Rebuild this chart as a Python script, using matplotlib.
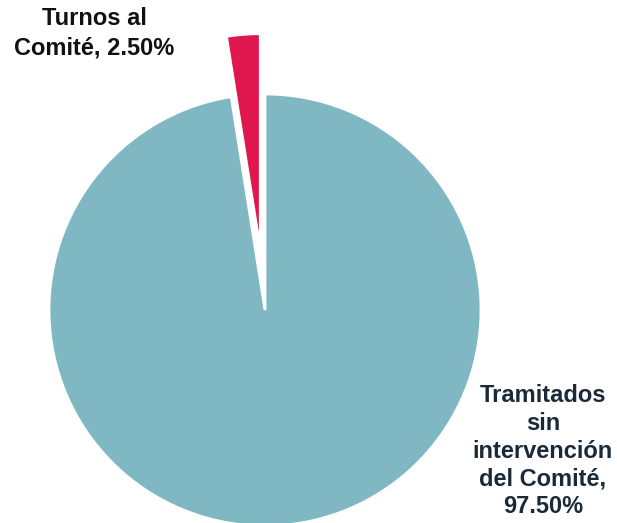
import matplotlib
matplotlib.use("Agg")
import matplotlib.pyplot as plt

categories = ["Turnos al\nComité", "Tramitados\nsin\nintervención\ndel Comité"]
values = [2.5, 97.5]
colors = ["#E0174F", "#7FB8C2"]
explode = [0.28, 0.0]

W, H = 617, 523
fig = plt.figure(figsize=(W / 100, H / 100), dpi=100)
cx, cy, r = 265, 310, 216
ax = fig.add_axes([(cx - r) / W, (H - cy - r) / H, 2 * r / W, 2 * r / H])
ax.pie(values, colors=colors, explode=explode, startangle=90, counterclock=True,
       radius=1.0, wedgeprops=dict(edgecolor="white", linewidth=2))
ax.set_xlim(-1, 1)
ax.set_ylim(-1, 1)
ax.set_aspect("equal")
ax.axis("off")

font = dict(family=["Liberation Sans", "DejaVu Sans"], fontweight="bold", fontsize=17)
lbl0 = f"{categories[0]}, {values[0]:.2f}%"
lbl1 = f"{categories[1]},\n{values[1]:.2f}%"
fig.text(94 / W, 1 - 33 / H, lbl0, ha="center", va="center", color="#111111",
         linespacing=1.38, **font)
fig.text(543 / W, 1 - 451 / H, lbl1, ha="center", va="center", color="#1B2A38",
         linespacing=1.27, **font)

fig.savefig("out.png", dpi=100)
